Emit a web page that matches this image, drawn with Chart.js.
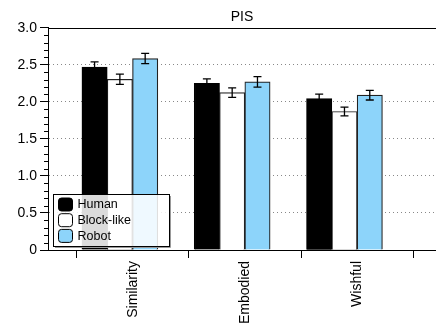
<!DOCTYPE html>
<html><head><meta charset="utf-8">
<script src="https://cdn.jsdelivr.net/npm/chart.js@4/dist/chart.umd.min.js"></script>
<style>html,body{margin:0;padding:0;background:#fff}#wrap{width:436px;height:326px}</style>
</head><body><div id="wrap"><canvas id="c" width="436" height="326"></canvas></div>
<script>
// ---- data ----
const categories = ['Similarity', 'Embodied', 'Wishful'];
const seriesNames = ['Human', 'Block-like', 'Robot'];
const humanValues = [2.47, 2.25, 2.045];
const blockValues = [2.305, 2.125, 1.87];
const robotValues = [2.585, 2.27, 2.09];
const humanErrors = [0.07, 0.06, 0.06];
const blockErrors = [0.07, 0.065, 0.06];
const robotErrors = [0.07, 0.07, 0.065];
const chartTitle = 'PIS';

// ---- layout constants ----
const FONT = "'Liberation Sans', Arial, Helvetica, sans-serif";
const LABEL_SHIFT = 0.115;      // category label position relative to bar-group centre
const BOUNDARY_SHIFT = -0.385;  // category boundary tick relative to bar-group centre
const seriesColors = ['#000000', '#ffffff', '#8dd4fa'];
const seriesBorders = ['#000000', '#222222', '#222222'];

Chart.defaults.font.family = FONT;
Chart.defaults.font.size = 14;
Chart.defaults.color = '#000';

const valueSets = [humanValues, blockValues, robotValues];
const errorSets = [humanErrors, blockErrors, robotErrors];

const datasets = seriesNames.map((name, d) => ({
  label: name,
  data: valueSets[d].map((v, i) => ({x: i, y: v})),
  backgroundColor: seriesColors[d],
  borderColor: seriesBorders[d],
  borderWidth: 1.2,
  barThickness: 25.3,
  errors: errorSets[d]
}));

const errorBars = {
  id: 'errorBars',
  afterDatasetsDraw(chart) {
    const {ctx, scales: {y}} = chart;
    ctx.save();
    ctx.strokeStyle = '#000';
    ctx.lineWidth = 1.3;
    chart.data.datasets.forEach((ds, d) => {
      const meta = chart.getDatasetMeta(d);
      meta.data.forEach((el, i) => {
        const v = ds.data[i].y, e = ds.errors[i];
        const yt = y.getPixelForValue(v + e), yb = y.getPixelForValue(v - e);
        const x = el.x;
        ctx.beginPath();
        ctx.moveTo(x, yt); ctx.lineTo(x, yb);
        ctx.moveTo(x - 4, yt); ctx.lineTo(x + 4, yt);
        ctx.moveTo(x - 4, yb); ctx.lineTo(x + 4, yb);
        ctx.stroke();
      });
    });
    ctx.restore();
  }
};

const frame = {
  id: 'frame',
  afterDraw(chart) {
    const {ctx, chartArea: a, scales: {y}} = chart;
    ctx.save();
    ctx.strokeStyle = '#000';
    ctx.lineWidth = 1;
    // top line
    ctx.beginPath();
    ctx.moveTo(a.left, Math.round(a.top) + 0.5);
    ctx.lineTo(a.right, Math.round(a.top) + 0.5);
    ctx.stroke();
    // minor ticks on y
    ctx.beginPath();
    for (let k = 0; k <= 30; k++) {
      if (k % 5 === 0) continue;
      const py = Math.round(y.getPixelForValue(k / 10)) + 0.5;
      ctx.moveTo(a.left - 4, py); ctx.lineTo(a.left, py);
    }
    ctx.stroke();
    // legend
    const lx = a.left + 5.5, lw = 116, lh = 52;
    const ly = a.bottom - 55.5;
    ctx.fillStyle = 'rgba(255,255,255,0.86)';
    ctx.fillRect(lx, ly, lw, lh);
    ctx.strokeStyle = '#999';
    ctx.beginPath();
    ctx.moveTo(lx + 1.5, ly + lh + 1); ctx.lineTo(lx + lw + 1, ly + lh + 1); ctx.lineTo(lx + lw + 1, ly + 1.5);
    ctx.stroke();
    ctx.strokeStyle = '#000';
    ctx.strokeRect(lx, ly, lw, lh);
    ctx.font = '12.5px ' + FONT;
    ctx.textBaseline = 'middle';
    ctx.textAlign = 'left';
    chart.data.datasets.forEach((ds, d) => {
      const sy = ly + 3.5 + d * 15.7;
      ctx.fillStyle = ds.backgroundColor;
      ctx.strokeStyle = '#000';
      ctx.beginPath();
      ctx.roundRect(lx + 5, sy, 14, 13, 3);
      ctx.fill(); ctx.stroke();
      ctx.fillStyle = '#000';
      ctx.fillText(ds.label, lx + 24, sy + 7);
    });
    ctx.restore();
  }
};

new Chart(document.getElementById('c'), {
  type: 'bar',
  data: {datasets},
  options: {
    responsive: false,
    animation: false,
    devicePixelRatio: 1,
    layout: {padding: {left: 0, right: 0, top: 0, bottom: 0}},
    plugins: {
      legend: {display: false},
      tooltip: {enabled: false},
      title: {
        display: true, text: chartTitle, fullSize: false, color: '#000',
        font: {size: 14, weight: 'normal', family: FONT},
        padding: {top: 9, bottom: 2}
      }
    },
    scales: {
      x: {
        type: 'linear',
        offset: false,
        min: -0.64, max: 2.815,
        afterBuildTicks(scale) {
          const t = [];
          for (let i = 0; i <= categories.length; i++) {
            t.push({value: i + BOUNDARY_SHIFT, kind: 'boundary'});
            if (i < categories.length) t.push({value: i + LABEL_SHIFT, kind: 'label', name: categories[i]});
          }
          scale.ticks = t;
        },
        afterFit(scale) { scale.height = 76; },
        ticks: {
          autoSkip: false, minRotation: 90, maxRotation: 90, padding: 3,
          font: {size: 14, family: FONT}, color: '#000',
          callback(value, index, ticks) { return ticks[index].kind === 'label' ? ticks[index].name : ''; }
        },
        grid: {
          offset: false,
          drawOnChartArea: false, tickLength: 8, tickWidth: 1,
          tickColor: (c) => (c.tick && c.tick.kind === 'boundary') ? '#000' : 'rgba(0,0,0,0)'
        },
        border: {color: '#000', width: 1}
      },
      y: {
        min: 0, max: 3,
        afterFit(scale) { scale.width = 48; },
        ticks: {
          stepSize: 0.5, padding: 3, color: '#000',
          font: {size: 14, family: FONT},
          callback: (v) => v === 0 ? '0' : v.toFixed(1)
        },
        grid: {
          tickLength: 8, tickColor: '#000', lineWidth: 1,
          color: (c) => (c.tick && (c.tick.value === 0 || c.tick.value === 3)) ? 'rgba(0,0,0,0)' : '#888'
        },
        border: {color: '#000', width: 1, dash: [1, 3]}
      }
    }
  },
  plugins: [errorBars, frame]
});
</script></body></html>
